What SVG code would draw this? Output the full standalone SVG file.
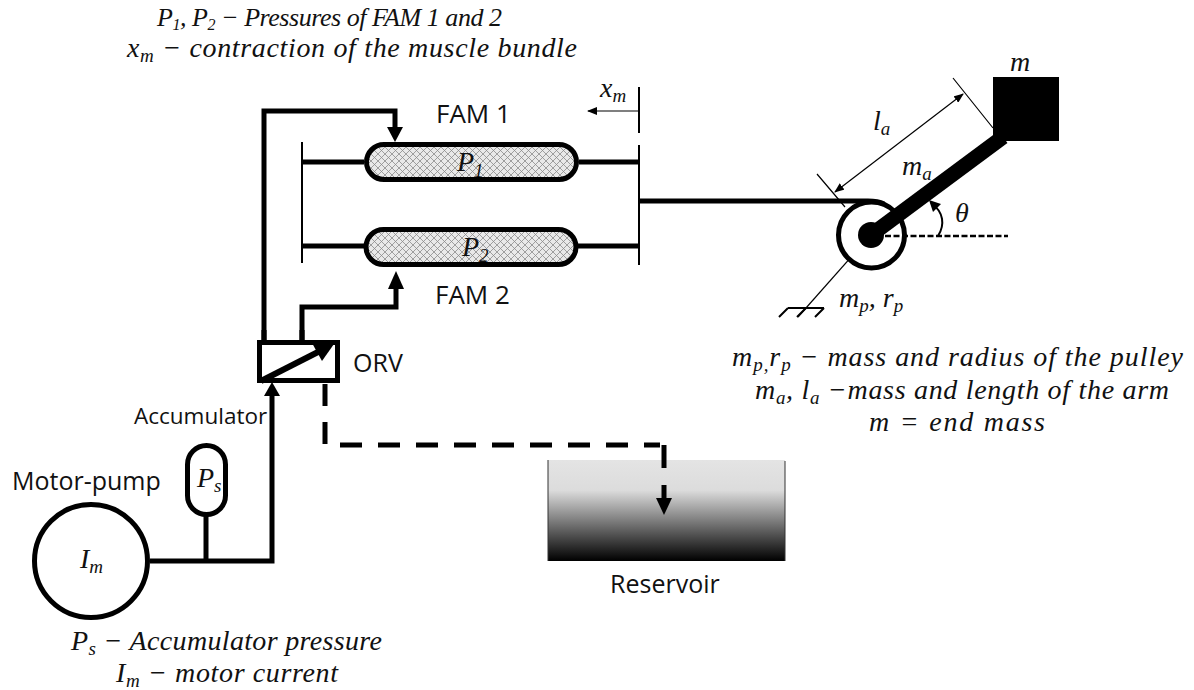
<svg xmlns="http://www.w3.org/2000/svg" width="1194" height="690" viewBox="0 0 1194 690">
<style>
.s{font-family:"Open Sans","Noto Sans",sans-serif;font-size:25px;fill:#111}
.m{font-family:"Liberation Serif",serif;font-style:italic;font-size:28px;fill:#111}
.u{font-size:19px}
.w{fill:none;stroke:#000;stroke-width:5}
.t{fill:none;stroke:#000;stroke-width:1.2}
.d{fill:none;stroke:#000;stroke-width:5;stroke-dasharray:22 16}
</style>
<defs>
<pattern id="hatch" width="7" height="7" patternUnits="userSpaceOnUse">
<rect width="7" height="7" fill="#e9e9e9"/>
<path d="M0 0L7 7M7 0L0 7" stroke="#8a8a8a" stroke-width="0.8"/>
</pattern>
<linearGradient id="tank" x1="0" y1="0" x2="0" y2="1">
<stop offset="0" stop-color="#e4e4e4"/><stop offset="0.3" stop-color="#dcdcdc"/><stop offset="1" stop-color="#000"/>
</linearGradient>
<marker id="thin" markerWidth="10" markerHeight="8" refX="9" refY="4" orient="auto-start-reverse" markerUnits="userSpaceOnUse">
<path d="M0 0L10 4L0 8Z" fill="#000"/>
</marker>
</defs>

<g id="reservoir"><rect x="548" y="460" width="237" height="101" fill="url(#tank)"/>
<path d="M548 460V561M785 461V561" stroke="#333" fill="none"/>
<text class="s" x="610" y="593">Reservoir</text></g>

<g id="connectors">
<path class="w" d="M264 340V111H395V128"/><path d="M387 127H403L395 142Z"/>
<path class="w" d="M302 340V307H396V288"/><path d="M388 289H404L396 271Z"/>
<path class="w" d="M150 561H272V396"/><path d="M264 396H280L272 382Z"/>
<path class="w" d="M206 516V561"/>
<path class="d" d="M325 384V445H660"/><path class="w" d="M664 445V468M664 485V501"/><path d="M656 498H672L664 515Z"/>
<path class="w" d="M302 162H364M579 162H639M302 246H364M578 246H639"/>
<path fill="none" stroke="#000" stroke-width="2" d="M302 142V263M639 87V133M639 145V265"/>
<path class="w" d="M640 201H868"/>
<path class="t" d="M638 111H588" marker-end="url(#thin)"/>
</g>

<g id="fam1"><rect x="366.500" y="144.500" width="210" height="35" rx="17.500" fill="url(#hatch)" stroke="#000" stroke-width="5"/>
<text class="m" x="457" y="171">P<tspan class="u" dy="6">1</tspan></text>
<text class="s" x="436" y="123" style="font-size:26px">FAM 1</text></g>
<g id="fam2"><rect x="366" y="229.500" width="210" height="35" rx="17.500" fill="url(#hatch)" stroke="#000" stroke-width="5"/>
<text class="m" x="462" y="256">P<tspan class="u" dy="6">2</tspan></text>
<text class="s" x="435" y="304" style="font-size:26px">FAM 2</text></g>

<g id="orv"><rect x="259.500" y="342.500" width="78" height="38" fill="#fff" stroke="#000" stroke-width="5"/>
<path d="M261 381L320 351" fill="none" stroke="#000" stroke-width="6"/>
<path d="M334 344L322 361L312 343Z"/>
<path class="w" d="M264 340V330M302 340V330"/>
<text class="s" x="353" y="372">ORV</text></g>

<g id="accumulator"><rect x="187.500" y="445.500" width="38" height="69" rx="19" fill="#fff" stroke="#000" stroke-width="5"/>
<text class="m" x="197" y="487">P<tspan class="u" dy="5">s</tspan></text>
<text class="s" x="134" y="424" style="font-size:22.500px">Accumulator</text></g>

<g id="motor"><circle cx="91" cy="561" r="56.500" fill="#fff" stroke="#000" stroke-width="5"/>
<text class="m" x="80" y="568">I<tspan class="u" dy="5">m</tspan></text>
<text class="s" x="12" y="490">Motor-pump</text></g>

<g id="arm">
<path class="t" d="M953 78L993 128M817 174L845 207"/>
<path class="t" d="M835 192L963 94" marker-start="url(#thin)" marker-end="url(#thin)"/>
<path d="M860 247L798 317" class="t"/>
<path d="M788 308H824M788 308L779 317M806 308L797 317M824 308L815 317" fill="none" stroke="#000" stroke-width="2"/>
<circle cx="871.500" cy="235" r="33" fill="#fff" stroke="#000" stroke-width="5"/>
<path d="M868 201C876 201 880 202 884 204" fill="none" stroke="#000" stroke-width="5"/>
<path d="M885 236H1008" fill="none" stroke="#000" stroke-width="2.500" stroke-dasharray="6 2.500"/>
<path d="M871 235L1003 137" fill="none" stroke="#000" stroke-width="15"/>
<circle cx="871" cy="235" r="13"/>
<rect x="993" y="77" width="66" height="64"/>
<path d="M938 236C945 225 944 212 931 203" fill="none" stroke="#000" stroke-width="2"/>
<path d="M929 200L941 204L933 212Z"/>
<text class="m" x="1010" y="71">m</text>
<text class="m" x="873" y="130">l<tspan class="u" dy="5">a</tspan></text>
<text class="m" x="902" y="175">m<tspan class="u" dy="5">a</tspan></text>
<text class="m" x="955" y="222">θ</text>
<text class="m" x="839" y="307">m<tspan class="u" dy="5">p</tspan><tspan dy="-5">, r</tspan><tspan class="u" dy="5">p</tspan></text>
<text class="m" x="600" y="97">x<tspan class="u" dy="5">m</tspan></text>
</g>

<g id="legends">
<text class="m" x="157" y="26" textLength="345" style="font-size:26px">P<tspan style="font-size:16px" dy="4">1</tspan><tspan dy="-4">, P</tspan><tspan style="font-size:16px" dy="4">2</tspan><tspan dy="-4"> − Pressures of FAM 1 and 2</tspan></text>
<text class="m" x="127" y="57" textLength="450">x<tspan class="u" dy="5">m</tspan><tspan dy="-5"> − contraction of the muscle bundle</tspan></text>
<text class="m" x="732" y="366" textLength="451">m<tspan class="u" dy="5">p,</tspan><tspan dy="-5">r</tspan><tspan class="u" dy="5">p</tspan><tspan dy="-5"> − mass and radius of the pulley</tspan></text>
<text class="m" x="755" y="399" textLength="414">m<tspan class="u" dy="5">a</tspan><tspan dy="-5">, l</tspan><tspan class="u" dy="5">a</tspan><tspan dy="-5"> −mass and length of the arm</tspan></text>
<text class="m" x="869" y="431" textLength="176">m = end mass</text>
<text class="m" x="71" y="650" textLength="311">P<tspan class="u" dy="5">s</tspan><tspan dy="-5"> − Accumulator pressure</tspan></text>
<text class="m" x="116" y="682" textLength="222">I<tspan class="u" dy="5">m</tspan><tspan dy="-5"> − motor current</tspan></text>
</g>
</svg>
